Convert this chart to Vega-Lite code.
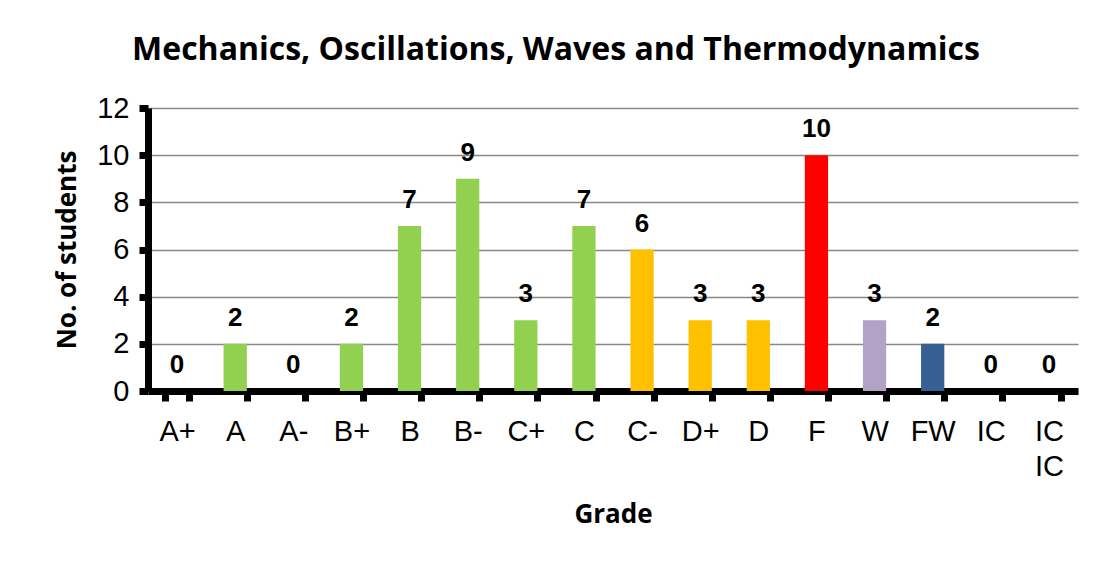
{
  "$schema": "https://vega.github.io/schema/vega-lite/v6.json",
  "width": 930,
  "height": 283,
  "autosize": "none",
  "padding": {"left": 148, "top": 108, "right": 26, "bottom": 172},
  "background": "white",
  "title": {
    "text": "Mechanics, Oscillations, Waves and Thermodynamics",
    "font": "Open Sans",
    "fontWeight": "bold",
    "fontSize": 32,
    "color": "black",
    "anchor": "middle",
    "dx": -57,
    "offset": 27
  },
  "data": {
    "values": [
      {"grade": "A+", "count": 0},
      {"grade": "A", "count": 2},
      {"grade": "A-", "count": 0},
      {"grade": "B+", "count": 2},
      {"grade": "B", "count": 7},
      {"grade": "B-", "count": 9},
      {"grade": "C+", "count": 3},
      {"grade": "C", "count": 7},
      {"grade": "C-", "count": 6},
      {"grade": "D+", "count": 3},
      {"grade": "D", "count": 3},
      {"grade": "F", "count": 10},
      {"grade": "W", "count": 3},
      {"grade": "FW", "count": 2},
      {"grade": "IC", "count": 0},
      {"grade": "IC IC", "count": 0}
    ]
  },
  "encoding": {
    "x": {
      "field": "grade",
      "type": "nominal",
      "sort": null,
      "scale": {"paddingInner": 0.6, "paddingOuter": 0.3},
      "axis": {
        "title": "Grade",
        "titleFont": "Open Sans",
        "titleFontWeight": "bold",
        "titleFontSize": 26,
        "titleColor": "black",
        "titlePadding": 20,
        "labelFont": "Liberation Sans",
        "labelFontSize": 29,
        "labelColor": "black",
        "labelAngle": 0,
        "labelPadding": 16,
        "labelLineHeight": 35,
        "labelBaseline": "top",
        "labelExpr": "split(datum.label, ' ')",
        "domainColor": "black",
        "domainWidth": 7,
        "tickColor": "black",
        "tickWidth": 7,
        "tickSize": 10,
        "tickBand": "extent",
        "grid": false
      }
    },
    "y": {
      "field": "count",
      "type": "quantitative",
      "scale": {"domain": [0, 12]},
      "axis": {
        "title": "No. of students",
        "titleFont": "Open Sans",
        "titleFontWeight": "bold",
        "titleFontSize": 26,
        "titleColor": "black",
        "titlePadding": 16,
        "values": [0, 2, 4, 6, 8, 10, 12],
        "labelFont": "Liberation Sans",
        "labelFontSize": 29,
        "labelColor": "black",
        "labelPadding": 10,
        "domainColor": "black",
        "domainWidth": 7,
        "tickColor": "black",
        "tickWidth": 7,
        "tickSize": 9,
        "grid": true,
        "gridColor": "#888888",
        "gridWidth": 1.5
      }
    }
  },
  "layer": [
    {
      "mark": {"type": "bar"},
      "encoding": {
        "color": {
          "field": "grade",
          "type": "nominal",
          "scale": {
            "domain": ["A+", "A", "A-", "B+", "B", "B-", "C+", "C", "C-", "D+", "D", "F", "W", "FW", "IC", "IC IC"],
            "range": ["#92D050", "#92D050", "#92D050", "#92D050", "#92D050", "#92D050", "#92D050", "#92D050", "#FFC000", "#FFC000", "#FFC000", "#FF0000", "#B3A2C7", "#376092", "#376092", "#376092"]
          },
          "legend": null
        }
      }
    },
    {
      "mark": {
        "type": "text",
        "font": "Liberation Sans",
        "fontWeight": "bold",
        "fontSize": 26,
        "color": "black",
        "baseline": "alphabetic",
        "dy": -18
      },
      "encoding": {"text": {"field": "count", "type": "quantitative"}}
    }
  ],
  "config": {"view": {"stroke": null}}
}
